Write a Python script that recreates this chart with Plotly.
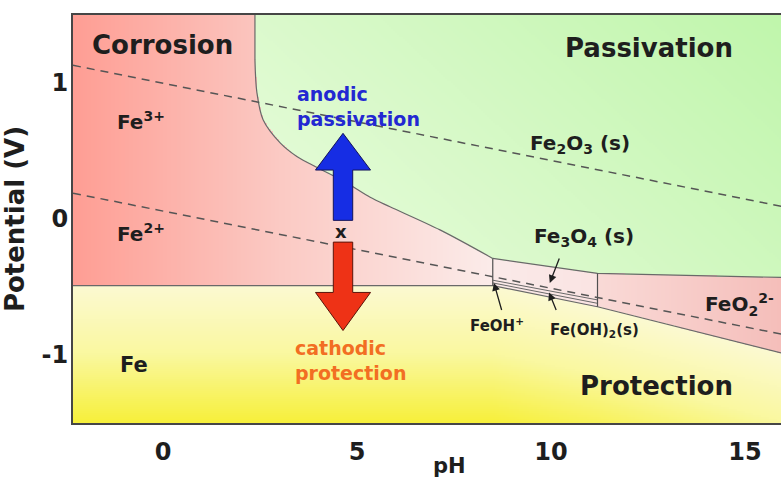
import numpy as np
import plotly.graph_objects as go

# ---------------- data ----------------
ph_range = [-2.32, 15.93]
v_range = [-1.5, 1.5]
x_ticks = [0, 5, 10, 15]
y_ticks = [-1, 0, 1]

# boundary oxide / dissolved iron (upper boundary of corrosion zone)
upper_ph = [2.37, 2.37, 2.42, 2.58, 3.02, 3.45, 4.0, 4.74, 5.34, 5.85, 7.14, 8.5, 11.2, 16.0]
upper_v = [1.5, 1.17, 0.93, 0.73, 0.56, 0.46, 0.375, 0.265, 0.16, 0.09, -0.08, -0.29, -0.40, -0.43]
# boundary metallic Fe (lower boundary of corrosion zone)
lower_ph = [-2.32, 8.5, 11.2, 16.0]
lower_v = [-0.49, -0.49, -0.645, -0.99]
# thin FeOH+ / Fe(OH)2 slivers
sliver_ph = [8.5, 11.2]
sliver1_v = [-0.45, -0.595]
sliver2_v = [-0.47, -0.62]
# vertical separators
vert_ph = [8.5, 11.2]
# water stability lines (dashed)
o2_ph = [-2.32, 16.0]
o2_v = [1.13, 0.09]
h2_ph = [-2.32, 16.0]
h2_v = [0.19, -0.85]
# arrows (pH centre, tail, head base, tip)
arrow_ph = 4.64
up_arrow_v = [-0.01, 0.36, 0.63]
down_arrow_v = [-0.17, -0.54, -0.82]
shaft_half = 0.25
head_half = 0.71

# ---------------- background image ----------------
nx, ny = 354, 204
dx = (ph_range[1] - ph_range[0]) / nx
dy = (v_range[1] - v_range[0]) / ny
ph = ph_range[0] + (np.arange(nx) + 0.5) * dx
vv = v_range[0] + (np.arange(ny) + 0.5) * dy
PH, V = np.meshgrid(ph, vv)

U = np.interp(PH, upper_ph[1:], upper_v[1:])
U = np.where(PH < upper_ph[0], np.inf, U)
L = np.interp(PH, lower_ph, lower_v)

def lerp_stops(t, stops_t, stops_c):
    out = np.zeros(t.shape + (3,))
    for k in range(3):
        out[..., k] = np.interp(t, stops_t, [c[k] for c in stops_c])
    return out

corr = lerp_stops(PH, [-2.32, 3.0, 8.5], [(255, 158, 148), (251, 202, 196), (252, 236, 234)])
mid = lerp_stops(PH, [8.5, 11.2], [(251, 234, 233), (250, 228, 227)])
feo2 = lerp_stops(PH, [11.2, 16.0], [(250, 218, 215), (245, 190, 186)])
s = np.clip(0.65 * (PH - 2.4) / 13.5 + 0.35 * (V + 0.4) / 1.9, 0, 1)
green = lerp_stops(s, [0, 1], [(234, 252, 222), (192, 246, 172)])
t = np.clip((L - V) / 1.0, 0, 1)
yellow = lerp_stops(t, [0, 0.5, 1], [(252, 250, 210), (250, 248, 160), (247, 240, 60)])

img = np.where((PH < 8.5)[..., None], corr, np.where((PH < 11.2)[..., None], mid, feo2))
img = np.where((V > U)[..., None], green, img)
img = np.where((V < L)[..., None], yellow, img)
img = img.astype(np.uint8)

fig = go.Figure()
fig.add_trace(go.Image(z=img, x0=ph[0], dx=dx, y0=vv[0], dy=dy, hoverinfo="skip"))

line_col = "rgb(105,105,105)"
# vertical top part + smooth curved part + straight oxide lines
fig.add_trace(go.Scatter(x=upper_ph[:2], y=upper_v[:2], mode="lines", line=dict(color=line_col, width=1.2), hoverinfo="skip"))
fig.add_trace(go.Scatter(x=upper_ph[1:12], y=upper_v[1:12], mode="lines",
                         line=dict(color=line_col, width=1.2, shape="spline", smoothing=0.9), hoverinfo="skip"))
fig.add_trace(go.Scatter(x=upper_ph[11:], y=upper_v[11:], mode="lines", line=dict(color=line_col, width=1.2), hoverinfo="skip"))
fig.add_trace(go.Scatter(x=lower_ph, y=lower_v, mode="lines", line=dict(color=line_col, width=1.2), hoverinfo="skip"))
for sv in (sliver1_v, sliver2_v):
    fig.add_trace(go.Scatter(x=sliver_ph, y=sv, mode="lines", line=dict(color=line_col, width=1), hoverinfo="skip"))
for p in vert_ph:
    top = float(np.interp(p, upper_ph[1:], upper_v[1:]))
    bot = float(np.interp(p, lower_ph, lower_v))
    fig.add_trace(go.Scatter(x=[p, p], y=[top, bot], mode="lines", line=dict(color="rgb(80,80,80)", width=1.2), hoverinfo="skip"))

dash_col = "rgb(85,85,85)"
fig.add_trace(go.Scatter(x=o2_ph, y=o2_v, mode="lines", line=dict(color=dash_col, width=1.5, dash="8px,6px"), hoverinfo="skip"))
fig.add_trace(go.Scatter(x=h2_ph, y=h2_v, mode="lines", line=dict(color=dash_col, width=1.5, dash="8px,6px"), hoverinfo="skip"))

def arrow_poly(c, tail, base, tip):
    xs = [c - shaft_half, c - shaft_half, c - head_half, c, c + head_half, c + shaft_half, c + shaft_half, c - shaft_half]
    ys = [tail, base, base, tip, base, base, tail, tail]
    return xs, ys

bx, by = arrow_poly(arrow_ph, *up_arrow_v)
fig.add_trace(go.Scatter(x=bx, y=by, mode="lines", fill="toself", fillcolor="rgb(22,45,228)",
                         line=dict(color="rgb(20,20,90)", width=1), hoverinfo="skip"))
rx, ry = arrow_poly(arrow_ph, *down_arrow_v)
fig.add_trace(go.Scatter(x=rx, y=ry, mode="lines", fill="toself", fillcolor="rgb(238,50,22)",
                         line=dict(color="rgb(90,20,10)", width=1), hoverinfo="skip"))

FONT = "DejaVu Sans"
TXT = "rgb(30,30,30)"

def label(text, x, y, size, xanchor="left", color=TXT, align="left"):
    fig.add_annotation(x=x, y=y, text=text, showarrow=False, xanchor=xanchor, yanchor="middle",
                       align=align, font=dict(family=FONT, size=size, color=color, weight="bold"))

label("Corrosion", -1.88, 1.28, 26)
label("Passivation", 12.53, 1.26, 26, xanchor="center")
label("Protection", 12.73, -1.23, 26, xanchor="center")
label("Fe<sup>3+</sup>", -1.24, 0.72, 20)
label("Fe<sup>2+</sup>", -1.24, -0.10, 20)
label("Fe", -1.16, -1.07, 21)
label("Fe<sub>2</sub>O<sub>3</sub> (s)", 9.41, 0.55, 20)
label("Fe<sub>3</sub>O<sub>4</sub> (s)", 9.51, -0.13, 20)
label("FeO<sub>2</sub><sup>2-</sup>", 13.92, -0.63, 20)
label("FeOH<sup>+</sup>", 7.86, -0.78, 15)
label("Fe(OH)<sub>2</sub>(s)", 9.92, -0.82, 15)
label("anodic<br>passivation", 3.40, 0.83, 19, color="rgb(35,40,210)")
label("cathodic<br>protection", 3.35, -1.04, 19, color="rgb(242,110,35)")
label("x", arrow_ph - 0.05, -0.09, 18, xanchor="center")

def pointer(x, y, ax, ay):
    fig.add_annotation(x=x, y=y, ax=ax, ay=ay, xref="x", yref="y", axref="x", ayref="y", text="",
                       showarrow=True, arrowhead=2, arrowsize=1.2, arrowwidth=1.3, arrowcolor="rgb(30,30,30)")

pointer(8.53, -0.47, 8.74, -0.68)
pointer(9.95, -0.54, 10.15, -0.68)
pointer(9.97, -0.47, 10.23, -0.28)

fig.add_annotation(x=(450 - 73) / 708, y=-(466 - 423) / 408, xref="paper", yref="paper", text="pH",
                   showarrow=False, xanchor="center", yanchor="middle",
                   font=dict(family=FONT, size=21, color=TXT, weight="bold"))

fig.update_layout(
    width=781, height=481,
    margin=dict(l=73, r=0, t=15, b=58),
    paper_bgcolor="white", plot_bgcolor="white",
    showlegend=False,
    xaxis=dict(range=ph_range, autorange=False, tickvals=x_ticks, ticktext=[str(v) for v in x_ticks],
               showgrid=False, zeroline=False, showline=True, mirror=True, linecolor="rgb(70,70,70)", linewidth=2,
               ticks="", tickfont=dict(family=FONT, size=24, color=TXT, weight="bold"), ticklabelstandoff=6),
    yaxis=dict(range=v_range, autorange=False, tickvals=y_ticks, ticktext=[str(v) for v in y_ticks],
               showgrid=False, zeroline=False, showline=True, linecolor="rgb(70,70,70)", linewidth=2,
               ticks="", tickfont=dict(family=FONT, size=24, color=TXT, weight="bold"), ticklabelstandoff=-2,
               scaleanchor=False,
               title=dict(text="Potential (V)", font=dict(family=FONT, size=26, color=TXT, weight="bold"), standoff=12)),
)

fig.write_html("out.html")
